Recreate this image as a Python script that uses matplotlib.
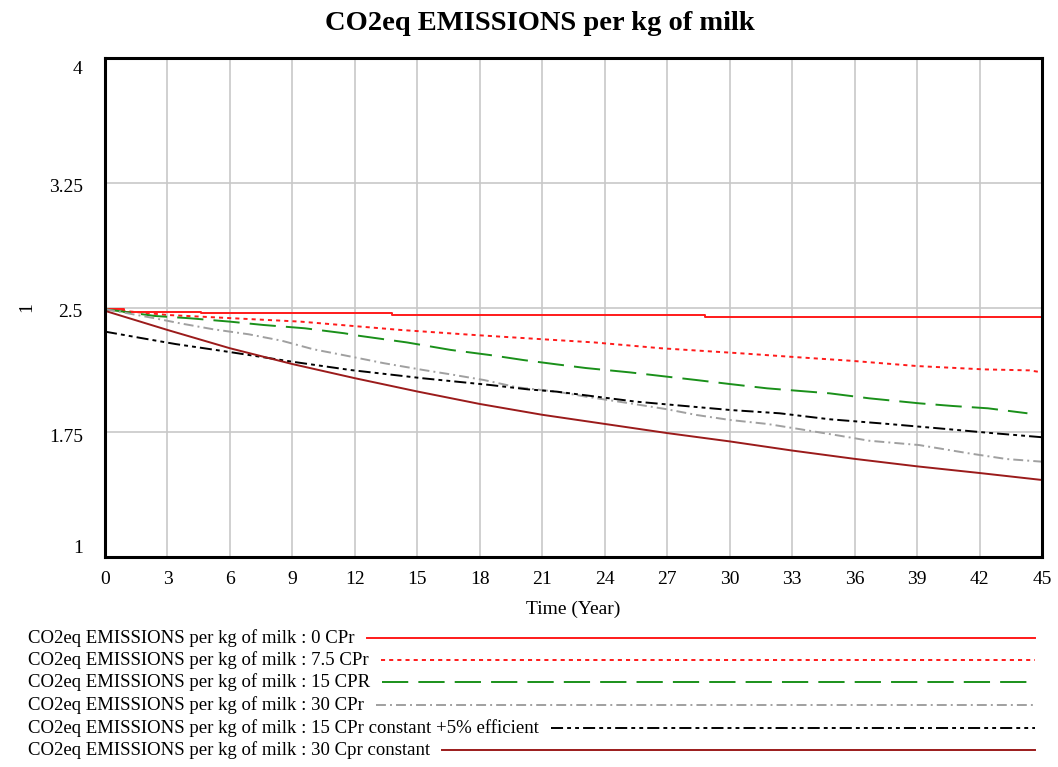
import matplotlib
matplotlib.use("Agg")
import matplotlib.pyplot as plt
from matplotlib.lines import Line2D
from matplotlib.transforms import ScaledTranslation

plt.rcParams['font.family'] = ['Liberation Serif', 'DejaVu Serif']

# ---------------- data ----------------
t_0cpr = [0, 0.9, 4.6, 13.8, 28.8, 45]
v_0cpr = [2.49, 2.475, 2.465, 2.455, 2.445, 2.445]

t_75cpr = [0, 3, 6.2, 9.4, 11.8, 14.2, 17.7, 20.9, 23.5, 26.7, 30.6, 32.9, 35.8, 39, 42.2, 44.4, 45]
v_75cpr = [2.49, 2.455, 2.435, 2.415, 2.39, 2.365, 2.335, 2.31, 2.29, 2.255, 2.224, 2.204, 2.18, 2.148, 2.128, 2.122, 2.11]

t_15cpr = [0, 2.4, 4.1, 6, 7.6, 9.6, 11.5, 12.2, 14.5, 16.6, 18.5, 20.1, 21.7, 23.1, 25.2, 27, 28.4, 30,
           31.8, 33.4, 34.8, 36.7, 39.1, 40.7, 42.4, 44.3]
v_15cpr = [2.49, 2.449, 2.435, 2.415, 2.395, 2.375, 2.345, 2.33, 2.29, 2.245, 2.214, 2.184, 2.158, 2.136,
           2.11, 2.084, 2.064, 2.04, 2.014, 1.998, 1.984, 1.954, 1.924, 1.908, 1.894, 1.864]

t_30cpr = [0, 2.4, 3.6, 5.2, 6.9, 8.5, 10, 11.4, 12.8, 13.4, 15.3, 16.6, 18.2, 19.8, 21.7, 23.1, 25.2, 27,
           28.4, 30, 31.8, 33.4, 35.1, 36.7, 39.1, 41.5, 43.3, 45]
v_30cpr = [2.49, 2.435, 2.405, 2.369, 2.339, 2.30, 2.249, 2.215, 2.18, 2.165, 2.124, 2.098, 2.064, 2.02,
           1.994, 1.964, 1.924, 1.888, 1.854, 1.824, 1.80, 1.768, 1.733, 1.699, 1.673, 1.623, 1.589, 1.573]

t_15const = [0, 1.8, 3.4, 5.9, 9, 11.8, 15.3, 18.5, 20.3, 21.7, 23.6, 25.5, 27.3, 30, 32.4, 34.8, 37.6,
             40, 42.4, 45]
v_15const = [2.355, 2.315, 2.28, 2.234, 2.174, 2.124, 2.074, 2.034, 2.008, 1.994, 1.964, 1.934, 1.914,
             1.884, 1.864, 1.828, 1.80, 1.774, 1.747, 1.72]

t_30const = [0, 3, 6, 9, 12, 15, 18, 21, 24, 27, 30, 33, 36, 39, 42, 45]
v_30const = [2.48, 2.365, 2.255, 2.16, 2.075, 1.995, 1.92, 1.855, 1.8, 1.745, 1.695, 1.64, 1.59, 1.545,
             1.505, 1.463]

labels = [
    "CO2eq EMISSIONS per kg of milk : 0 CPr",
    "CO2eq EMISSIONS per kg of milk : 7.5 CPr",
    "CO2eq EMISSIONS per kg of milk : 15 CPR",
    "CO2eq EMISSIONS per kg of milk : 30 CPr",
    "CO2eq EMISSIONS per kg of milk : 15 CPr constant +5% efficient",
    "CO2eq EMISSIONS per kg of milk : 30 Cpr constant",
]
x_ticks = list(range(0, 46, 3))
y_ticks = [1, 1.75, 2.5, 3.25, 4]
y_ticklabels = ["1", "1.75", "2.5", "3.25", "4"]

# ---------------- styles ----------------
LW = 1.4
styles = [
    dict(color='#FF1A1A', linestyle='-'),
    dict(color='#FF1A1A', linestyle=(0, (2.1, 2.1))),
    dict(color='#1A901A', linestyle=(0, (13.5, 5.2))),
    dict(color='#A0A0A0', linestyle=(0, (5.1, 2.1, 1.0, 2.1))),
    dict(color='#000000', linestyle=(0, (6.2, 2.1, 2.0, 2.1, 2.0, 2.1))),
    dict(color='#9B1B1B', linestyle='-'),
]
series = [(t_0cpr, v_0cpr), (t_75cpr, v_75cpr), (t_15cpr, v_15cpr), (t_30cpr, v_30cpr),
          (t_15const, v_15const), (t_30const, v_30const)]

W, H = 1058, 767
fig = plt.figure(figsize=(W / 100, H / 100), dpi=100)
ax = fig.add_axes([105 / W, 1 - 557 / H, (1042 - 105) / W, (557 - 58) / H])

for i, ((t, v), st) in enumerate(zip(series, styles)):
    kw = dict(lw=LW, **st)
    if i == 0:
        kw['drawstyle'] = 'steps-post'
    ax.plot(t, v, zorder=3, **kw)

ax.set_xlim(0, 45)
ax.set_ylim(1, 4)
ax.set_xticks(x_ticks)
ax.set_xticklabels([str(x) for x in x_ticks])
ax.set_yticks(y_ticks)
ax.set_yticklabels(y_ticklabels)
ax.tick_params(axis='both', length=0, labelsize=14)
ax.tick_params(axis='y', pad=16)
ax.tick_params(axis='x', pad=10)
ax.grid(True, color='#C8C8C8', lw=1.2, zorder=1)
for sp in ax.spines.values():
    sp.set_linewidth(2.2)
    sp.set_color('black')
    sp.set_zorder(5)

ax.set_xlabel("Time (Year)", fontsize=14, labelpad=9)
ax.set_ylabel("1", fontsize=14, labelpad=0)
ax.yaxis.set_label_coords(-70 / (1042 - 105), 0.5)

fig.text(540 / W, 1 - 24 / H, "CO2eq EMISSIONS per kg of milk", ha='center', va='center',
         fontsize=20.5, fontweight='bold')

# align y tick labels like the reference
ylabs = ax.get_yticklabels()
ylabs[0].set_va('bottom')
ylabs[-1].set_va('top')
shift = ScaledTranslation(0, -3 / 100, fig.dpi_scale_trans)
for lab in ylabs[1:]:
    lab.set_transform(lab.get_transform() + shift)

# legend rows
row_y = [638, 660, 682, 705, 728, 750]
texts = []
for lab, ry in zip(labels, row_y):
    tx = fig.text(28 / W, 1 - ry / H, lab, ha='left', va='center', fontsize=13.5)
    texts.append(tx)

fig.canvas.draw()
renderer = fig.canvas.get_renderer()
for tx, ry, st in zip(texts, row_y, styles):
    bb = tx.get_window_extent(renderer)
    x0 = (bb.x1 + 12) / W
    x1 = 1035 / W
    yy = 1 - ry / H
    ln = Line2D([x0, x1], [yy, yy], transform=fig.transFigure, lw=LW, **st)
    fig.add_artist(ln)

fig.savefig("out.png", dpi=100)
